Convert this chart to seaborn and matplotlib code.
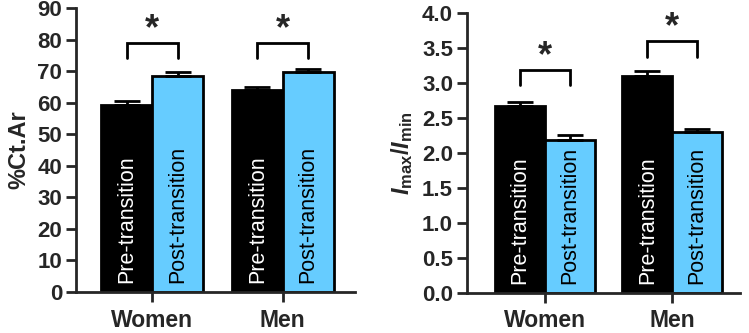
import numpy as np
import pandas as pd
import matplotlib.pyplot as plt
import seaborn as sns

# values (mean, upper error)
groups = ['Women', 'Men']
phases = ['Pre-transition', 'Post-transition']
ct_mean = [59.2, 68.5, 64.0, 69.8]      # Women pre, Women post, Men pre, Men post
ct_err = [1.2, 1.3, 0.9, 0.8]
imax_mean = [2.67, 2.19, 3.10, 2.30]
imax_err = [0.06, 0.07, 0.07, 0.05]
ct_ticks = np.arange(0, 91, 10)
imax_ticks = np.arange(0, 4.01, 0.5)

sns.set_style('ticks')
plt.rcParams['font.family'] = ['Liberation Sans', 'DejaVu Sans']
plt.rcParams['mathtext.fontset'] = 'custom'
plt.rcParams['mathtext.rm'] = 'Liberation Sans:bold'
plt.rcParams['mathtext.it'] = 'Liberation Sans:bold:italic'
plt.rcParams['mathtext.bf'] = 'Liberation Sans:bold'

blue = '#66CCFF'
lw = 2.0


def make_df(means, errs):
    rows = []
    k = 0
    for g in groups:
        for p in phases:
            rows.append({'group': g, 'phase': p, 'value': means[k], 'err': errs[k]})
            k += 1
    return pd.DataFrame(rows)


def panel(ax, df, ylim, ticks, ylabel, bracket, star_y, text_y, tickfmt):
    sns.barplot(data=df, x='group', y='value', hue='phase', hue_order=phases,
                order=groups, palette=['black', blue], saturation=1, width=0.78,
                edgecolor='black', linewidth=lw, errorbar=None, legend=False, ax=ax)
    bars = ax.patches[:4]
    # patches come per hue: pre(W, M), post(W, M)
    xs = {}
    for b, (p, g) in zip(bars, [(p, g) for p in phases for g in groups]):
        xs[(g, p)] = b.get_x() + b.get_width() / 2
    for _, r in df.iterrows():
        x = xs[(r.group, r.phase)]
        ax.errorbar(x, r.value, yerr=[[0], [r.err]], fmt='none', ecolor='black',
                    elinewidth=lw, capsize=9.5, capthick=lw, zorder=1)
        ax.text(x, text_y, r.phase, rotation=90, ha='center', va='bottom',
                color='black' if r.phase == 'Post-transition' else 'white',
                fontsize=15.5)
    for g, (top, leg), sy in zip(groups, bracket, star_y):
        x0, x1 = xs[(g, phases[0])], xs[(g, phases[1])]
        ax.plot([x0, x0, x1, x1], [leg, top, top, leg], color='black', lw=lw,
                solid_joinstyle='miter', clip_on=False)
        ax.text((x0 + x1) / 2, sy, '*', ha='center', va='center',
                fontsize=26, fontweight='bold')
    ax.set_ylim(*ylim)
    ax.set_yticks(ticks)
    ax.set_yticklabels([tickfmt(t) for t in ticks], fontweight='bold', fontsize=16)
    ax.set_xticks([0, 1])
    ax.set_xticklabels(groups, fontweight='bold', fontsize=16.5)
    ax.set_xlabel('')
    ax.set_ylabel(ylabel, fontweight='bold', fontsize=17, labelpad=5)
    ax.tick_params(width=lw, length=7, pad=3)
    ax.tick_params(axis='x', pad=5)
    for s in ['left', 'bottom']:
        ax.spines[s].set_linewidth(lw)
    sns.despine(ax=ax)


fig = plt.figure(figsize=(7.49, 3.33), dpi=100)
ax1 = fig.add_axes([0.1015, 0.123, 0.3725, 0.853])
ax2 = fig.add_axes([0.6235, 0.121, 0.3645, 0.839])

panel(ax1, make_df(ct_mean, ct_err), (0, 90), ct_ticks, '%Ct.Ar',
      [(78.9, 74.2), (78.9, 74.2)], [83.0, 83.0], 2.8, lambda t: f'{t:.0f}')
ax1.set_xlim(-0.585, 1.554)

panel(ax2, make_df(imax_mean, imax_err), (0, 4), imax_ticks,
      r'$I_{\rm max}/I_{\rm min}$',
      [(3.19, 2.98), (3.60, 3.38)], [3.38, 3.79], 0.12, lambda t: f'{t:.1f}')
ax2.set_xlim(-0.614, 1.535)

fig.savefig('out.png', dpi=100)
